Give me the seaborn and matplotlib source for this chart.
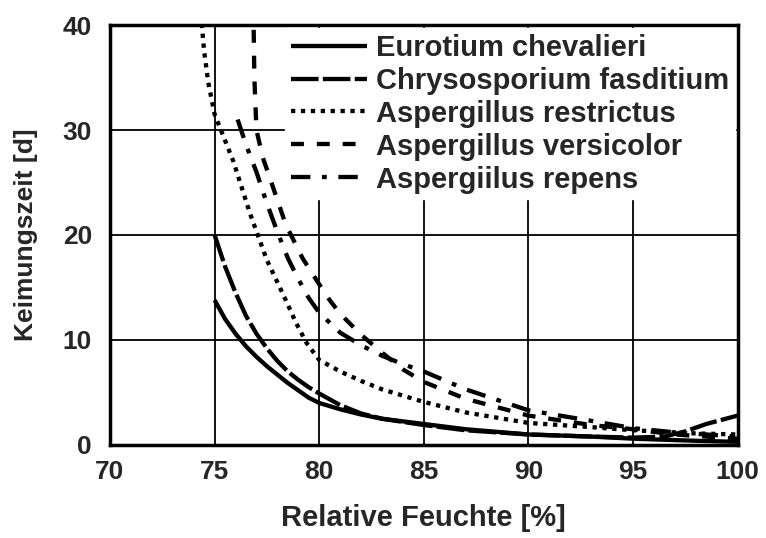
import matplotlib
matplotlib.use("Agg")
import matplotlib.pyplot as plt
import seaborn as sns

# --- Daten ---
eur_x = [75.0, 75.5, 76, 76.5, 77, 77.5, 78, 78.5, 79, 79.5, 80, 81, 82, 83, 85, 87, 90, 93, 95, 98, 100]
eur_y = [13.8, 12.0, 10.6, 9.4, 8.4, 7.5, 6.7, 5.9, 5.2, 4.5, 4.0, 3.4, 2.9, 2.5, 2.0, 1.5, 1.0, 0.8, 0.6, 0.4, 0.3]

chr_x = [75.0, 75.5, 76, 76.5, 77, 77.5, 78, 78.5, 79, 79.5, 80, 81, 82, 83, 85, 87, 90, 93, 95, 96.5, 97.5, 98.5, 100]
chr_y = [20.0, 17.0, 14.5, 12.3, 10.6, 9.2, 8.0, 7.0, 6.2, 5.5, 4.9, 3.8, 3.0, 2.5, 1.9, 1.4, 1.0, 0.8, 0.7, 0.8, 1.3, 2.0, 2.8]

res_x = [74.3, 74.5, 74.7, 75.0, 75.4, 75.9, 76.3, 76.7, 77.1, 77.5, 78.0, 78.4, 78.9, 79.4, 80.0, 81, 82, 83, 85, 87, 90, 93, 95, 98, 100]
res_y = [42.0, 37.5, 34.5, 31.5, 29.5, 27.0, 24.5, 22.0, 19.8, 17.6, 15.5, 13.8, 11.6, 9.7, 8.1, 7.0, 6.1, 5.3, 4.1, 3.1, 2.1, 1.7, 1.4, 1.1, 1.0]

ver_x = [76.85, 76.9, 77.0, 77.3, 77.8, 78.4, 79.2, 80.0, 80.5, 81, 82, 83, 84, 85, 87, 90, 93, 95, 97, 100]
ver_y = [42.0, 35.0, 30.0, 27.4, 24.5, 21.0, 17.8, 15.3, 13.8, 12.5, 10.5, 8.8, 7.2, 6.0, 4.4, 2.8, 1.9, 1.5, 1.0, 0.6]

rep_x = [76.1, 76.5, 77, 77.5, 78, 78.5, 79, 79.5, 80, 81, 82, 83, 84, 85, 87, 90, 93, 95, 97, 100]
rep_y = [31.0, 28.6, 26.0, 23.0, 20.3, 17.8, 15.8, 14.0, 12.6, 10.7, 9.5, 8.5, 7.7, 7.0, 5.3, 3.3, 2.3, 1.6, 1.2, 0.8]

namen = ["Eurotium chevalieri", "Chrysosporium fasditium", "Aspergillus restrictus",
         "Aspergillus versicolor", "Aspergiilus repens"]
serien = [(eur_x, eur_y), (chr_x, chr_y), (res_x, res_y), (ver_x, ver_y), (rep_x, rep_y)]
stile = [(0, ()), (0, (6.4, 1.0)), (0, (1, 1.3)), (0, (3, 3)), (0, (4.5, 2.7, 1.1, 2.7))]

x_ticks = [70, 75, 80, 85, 90, 95, 100]
y_ticks = [0, 10, 20, 30, 40]

# --- Grafik ---
sns.set_style("white")
plt.rcParams['font.family'] = ['Liberation Sans', 'DejaVu Sans']
plt.rcParams['font.weight'] = 'bold'

fig = plt.figure(figsize=(7.66, 5.38), dpi=100)
ax = fig.add_axes([0.1436, 0.1729, 0.8194, 0.7806])

for name, (xs, ys), ls in zip(namen, serien, stile):
    sns.lineplot(x=xs, y=ys, ax=ax, color='black', lw=3.1, linestyle=ls,
                 label=name, sort=False)

ax.set_xlim(70, 100)
ax.set_ylim(0, 40)
ax.set_xticks(x_ticks)
ax.set_yticks(y_ticks)
ax.grid(True, color='black', lw=1.3)
ax.tick_params(axis='x', length=0, labelsize=19, pad=11)
ax.tick_params(axis='y', length=0, labelsize=19, pad=13)
for lab in ax.get_xticklabels() + ax.get_yticklabels():
    lab.set_fontweight('bold')
for sp in ax.spines.values():
    sp.set_color('black')
    sp.set_linewidth(2.5)

ax.set_xlabel('Relative Feuchte [%]', fontsize=21, fontweight='bold', labelpad=14)
ax.set_ylabel('Keimungszeit [d]', fontsize=19, fontweight='bold', labelpad=18)

leg = ax.legend(loc='upper right', fontsize=21, frameon=True, fancybox=False,
                framealpha=1, edgecolor='white', handlelength=2.6,
                handletextpad=0.3, labelspacing=0.17, borderaxespad=0.1,
                borderpad=0.2)
for t in leg.get_texts():
    t.set_fontweight('bold')

fig.savefig('out.png', dpi=100)
